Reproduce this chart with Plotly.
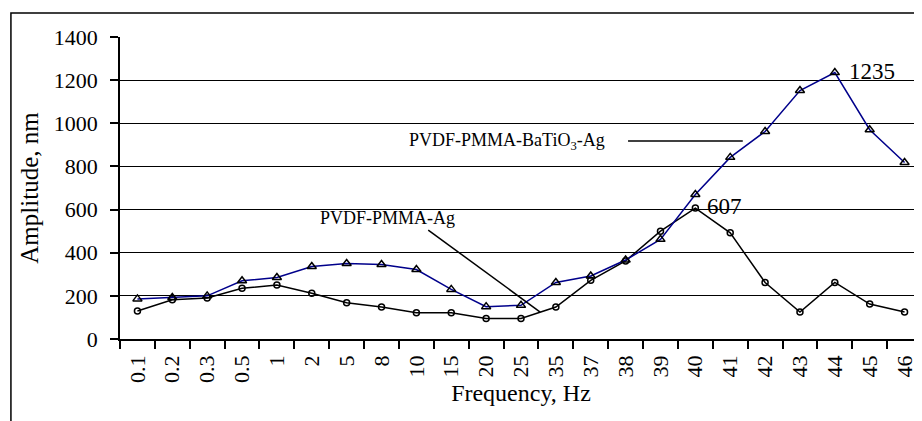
import plotly.graph_objects as go

categories = ["0.1", "0.2", "0.3", "0.5", "1", "2", "5", "8", "10", "15", "20", "25",
              "35", "37", "38", "39", "40", "41", "42", "43", "44", "45", "46"]
pvdf_pmma_ag = [130, 182, 190, 235, 250, 212, 168, 148, 122, 122, 95, 95,
                148, 272, 362, 500, 607, 492, 262, 125, 262, 162, 125]
pvdf_pmma_batio3_ag = [186, 192, 200, 270, 285, 336, 350, 345, 322, 230, 150, 156,
                       262, 292, 366, 462, 670, 842, 962, 1152, 1235, 970, 818]
y_ticks = [0, 200, 400, 600, 800, 1000, 1200, 1400]

FONT = "Liberation Serif, Times New Roman, serif"

fig = go.Figure()
fig.add_trace(go.Scatter(
    x=categories, y=pvdf_pmma_ag, mode="lines+markers",
    line=dict(color="black", width=1.5),
    marker=dict(symbol="circle-open", size=6, color="black", line=dict(width=1.5)),
    name="PVDF-PMMA-Ag", showlegend=False))
fig.add_trace(go.Scatter(
    x=categories, y=pvdf_pmma_batio3_ag, mode="lines+markers",
    line=dict(color="#00008b", width=1.5),
    marker=dict(symbol="triangle-up-open", size=8, color="black", line=dict(width=1.5)),
    name="PVDF-PMMA-BaTiO3-Ag", showlegend=False))

# value labels
fig.add_annotation(x=21.06, y=1238, xref="x", yref="y", text="1235", showarrow=False,
                   font=dict(family=FONT, size=23, color="black"))
fig.add_annotation(x=16.85, y=612, xref="x", yref="y", text="607", showarrow=False,
                   font=dict(family=FONT, size=23, color="black"))
# series labels
fig.add_annotation(x=10.6, y=915, xref="x", yref="y",
                   text="PVDF-PMMA-BaTiO<sub>3</sub>-Ag", showarrow=False,
                   font=dict(family=FONT, size=18, color="black"))
fig.add_annotation(x=7.16, y=561, xref="x", yref="y", text="PVDF-PMMA-Ag", showarrow=False,
                   font=dict(family=FONT, size=18, color="black"))
# leader lines
fig.add_shape(type="line", xref="x", yref="y", x0=14.07, x1=17.36, y0=918, y1=918,
              line=dict(color="black", width=1.5))
fig.add_shape(type="line", xref="x", yref="y", x0=8.34, x1=11.55, y0=505, y1=125,
              line=dict(color="black", width=1.5))
# outer frame
fig.add_shape(type="rect", xref="paper", yref="paper", x0=-0.136, x1=1.05, y0=-0.3, y1=1.0795,
              line=dict(color="black", width=1.5), layer="above")

fig.update_layout(
    width=914, height=413,
    margin=dict(l=112, r=0, t=29, b=82),
    paper_bgcolor="white", plot_bgcolor="white",
    font=dict(family=FONT, size=21, color="black"),
    xaxis=dict(
        type="category", range=[-0.5, 22.5], tickangle=-90,
        ticks="outside", ticklen=8, tickwidth=1.5, tickcolor="black", tickson="boundaries",
        showline=True, linecolor="black", linewidth=1.5, showgrid=False,
        tickfont=dict(family=FONT, size=22), ticklabelstandoff=6,
        title=dict(text="Frequency, Hz", font=dict(family=FONT, size=24), standoff=2),
    ),
    yaxis=dict(
        range=[0, 1400], tickvals=y_ticks, ticks="outside", ticklen=8, tickwidth=1.5,
        tickcolor="black", showline=True, linecolor="black", linewidth=1.5,
        showgrid=True, gridcolor="black", gridwidth=1.2, zeroline=False,
        tickfont=dict(family=FONT, size=22), ticklabelstandoff=8,
        title=dict(text="Amplitude, nm", font=dict(family=FONT, size=25), standoff=8),
    ),
)

fig.write_html("out.html")
